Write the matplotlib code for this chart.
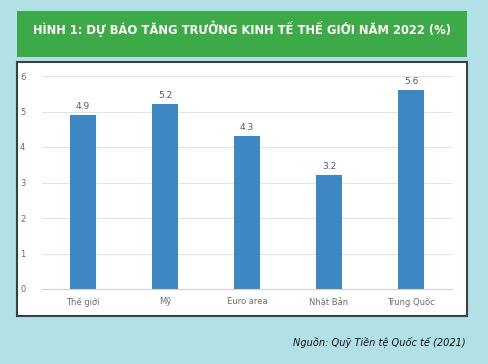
import matplotlib.pyplot as plt
from matplotlib.patches import Rectangle

countries = ["Thế giới", "Mỹ", "Euro area", "Nhật Bản", "Trung Quốc"]
growth = [4.9, 5.2, 4.3, 3.2, 5.6]
yticks = [0, 1, 2, 3, 4, 5, 6]

title = "HÌNH 1: DỰ BÁO TĂNG TRƯỞNG KINH TẾ THẾ GIỚI NĂM 2022 (%)"
source = "Nguồn: Quỹ Tiền tệ Quốc tế (2021)"

W, H = 488, 364
fig = plt.figure(figsize=(W / 100, H / 100), dpi=100)
fig.patch.set_facecolor("#b2e0e7")

narrow = ["Liberation Sans Narrow", "DejaVu Sans Condensed", "DejaVu Sans"]

# green banner with the title
fig.patches.append(Rectangle((17 / W, 1 - 57 / H), 450 / W, 46 / H,
                             transform=fig.transFigure, facecolor="#3daa48",
                             edgecolor="none", zorder=-2))
fig.text(242 / W, 1 - 29 / H, title, color="white", fontsize=9.3,
         fontweight="bold", family=narrow, fontstretch="condensed",
         ha="center", va="center")

# white chart box
fig.patches.append(Rectangle((17 / W, 1 - 316 / H), 450 / W, 254 / H,
                             transform=fig.transFigure, facecolor="white",
                             edgecolor="#3a3f44", linewidth=1.5, zorder=-2))

ax = fig.add_axes([42 / W, 1 - 289 / H, 410 / W, 213 / H])
ax.set_facecolor("none")
x = range(len(countries))
bars = ax.bar(x, growth, width=0.32, color="#3d88c4", zorder=2)
for b, v in zip(bars, growth):
    ax.text(b.get_x() + b.get_width() / 2, v + 0.12, f"{v}", ha="center",
            va="bottom", fontsize=6.5, color="#595959")

ax.set_xlim(-0.5, len(countries) - 0.5)
ax.set_ylim(0, 6)
ax.set_yticks(yticks)
ax.set_xticks(list(x))
ax.set_xticklabels(countries, fontsize=6.5)
ax.tick_params(axis="both", length=0, labelsize=6, colors="#6b6b6b")
ax.tick_params(axis="y", pad=12)
ax.tick_params(axis="x", pad=6)
ax.grid(axis="y", color="#e3e3e3", linewidth=0.8, zorder=0)
for s in ["top", "right", "left"]:
    ax.spines[s].set_visible(False)
ax.spines["bottom"].set_color("#d0d0d0")

fig.text(466 / W, 1 - 343 / H, source, fontsize=7.8, style="italic",
         family=narrow, fontstretch="condensed",
         color="#111111", ha="right", va="center")

fig.savefig("out.png", dpi=100, facecolor=fig.get_facecolor())
